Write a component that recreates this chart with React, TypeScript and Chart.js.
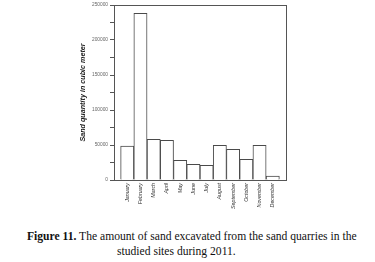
import React, { useEffect, useRef } from "react";
import { Chart, registerables } from "chart.js";

Chart.register(...registerables);

const months = [
  "January", "February", "March", "April", "May", "June",
  "July", "August", "September", "October", "November", "December",
];
const sandQuantity = [
  48500, 238000, 58000, 56700, 28100, 22400,
  21000, 49600, 43900, 29600, 49600, 5700,
];
const yMajorStep = 50000;
const yMinorStep = 25000;
const yMax = 250000;
const yTitle = "Sand quantity in cubic meter";
const captionBold = "Figure 11.";
const captionLine1 = " The amount of sand excavated from the sand quarries in the";
const captionLine2 = "studied sites during 2011.";

const AXIS = "#555555";

const framePlugin = {
  id: "frame",
  afterDraw(chart: any) {
    const { ctx, chartArea } = chart;
    ctx.save();
    ctx.strokeStyle = AXIS;
    ctx.lineWidth = 1;
    ctx.strokeRect(
      Math.round(chartArea.left) + 0.5,
      Math.round(chartArea.top) + 0.5,
      Math.round(chartArea.right - chartArea.left),
      Math.round(chartArea.bottom - chartArea.top)
    );
    ctx.restore();
  },
};

export default function App() {
  const ref = useRef<HTMLCanvasElement | null>(null);

  useEffect(() => {
    document.body.style.margin = "0";
    const canvas = ref.current;
    if (!canvas) return;
    const chart = new Chart(canvas, {
      type: "bar",
      data: {
        datasets: [
          {
            data: months.map((_, i) => ({ x: i, y: sandQuantity[i] })),
            backgroundColor: "#ffffff",
            borderColor: "#4a4a4a",
            borderWidth: 1,
            barPercentage: 1,
            categoryPercentage: 1,
          },
        ],
      },
      options: {
        animation: false,
        responsive: false,
        maintainAspectRatio: false,
        layout: { padding: { left: 75, right: 89, top: 5, bottom: 0 } },
        plugins: { legend: { display: false }, tooltip: { enabled: false } },
        scales: {
          x: {
            type: "linear",
            offset: false,
            min: -1,
            max: months.length,
            afterBuildTicks: (scale: any) => {
              scale.ticks = months.map((_, i) => ({ value: i }));
            },
            afterFit: (scale: any) => {
              scale.height = 45;
            },
            grid: { display: false, drawTicks: false, offset: false },
            border: { display: true, color: AXIS },
            ticks: {
              autoSkip: false,
              minRotation: 90,
              maxRotation: 90,
              padding: 3,
              color: "#333333",
              font: { family: "Liberation Sans, Arial, sans-serif", size: 5.3, style: "italic" },
              callback: (v: any) => months[Number(v)] ?? "",
            },
          },
          y: {
            min: 0,
            max: yMax,
            afterFit: (scale: any) => {
              scale.width = 39;
            },
            ticks: {
              stepSize: yMinorStep,
              padding: 2,
              color: "#666666",
              font: { family: "Liberation Sans, Arial, sans-serif", size: 4.8 },
              callback: (v: any) => (Number(v) % yMajorStep === 0 ? String(v) : ""),
            },
            grid: {
              drawOnChartArea: false,
              drawTicks: true,
              tickLength: 4,
              color: AXIS,
            },
            border: { display: true, color: AXIS },
            title: {
              display: true,
              text: yTitle,
              color: "#1a1a1a",
              padding: 4,
              font: { family: "Liberation Sans, Arial, sans-serif", size: 7.2, style: "italic", weight: "bold" },
            },
          },
        },
      },
      plugins: [framePlugin],
    } as any);
    return () => chart.destroy();
  }, []);

  const captionStyle: React.CSSProperties = {
    position: "absolute",
    fontFamily: "'Liberation Serif', 'Times New Roman', serif",
    fontSize: "11.6px",
    color: "#111",
    whiteSpace: "nowrap",
    lineHeight: "12px",
  };

  return (
    <div style={{ position: "relative", width: 375, height: 262, background: "#fff" }}>
      <canvas ref={ref} width={375} height={225} style={{ position: "absolute", left: 0, top: 0 }} />
      <div style={{ ...captionStyle, left: 27, top: 231 }}>
        <b>{captionBold}</b>
        {captionLine1}
      </div>
      <div style={{ ...captionStyle, left: 117, top: 246 }}>{captionLine2}</div>
    </div>
  );
}
